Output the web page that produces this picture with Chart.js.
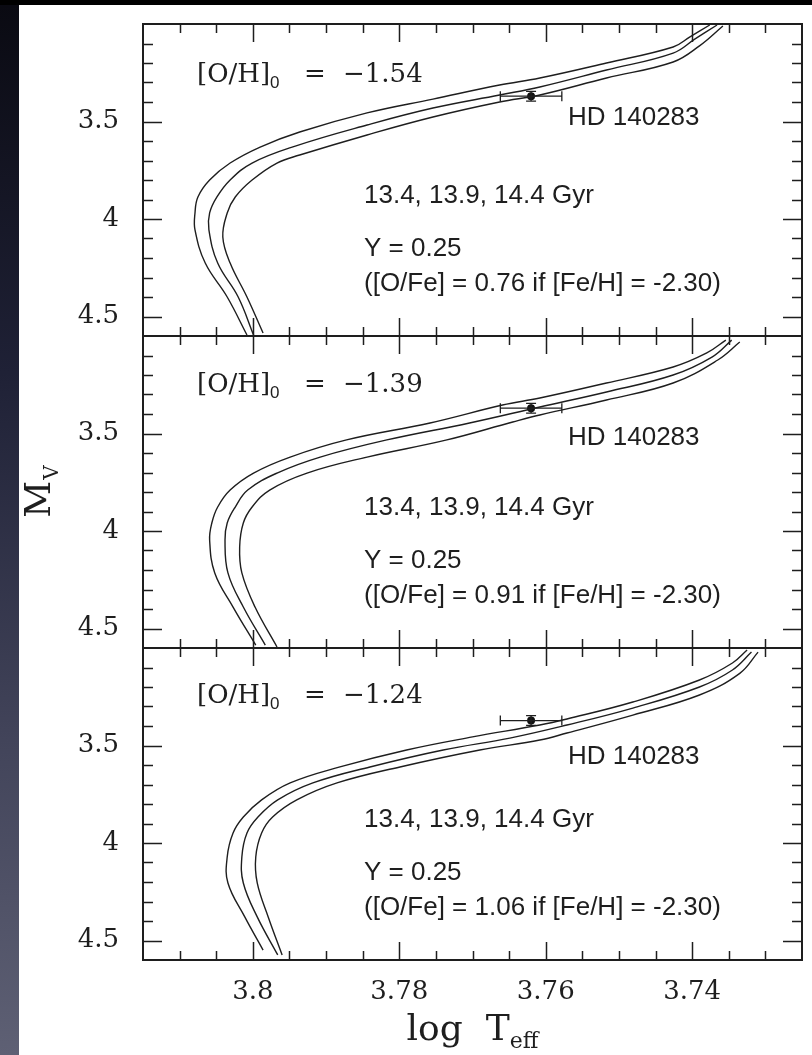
<!DOCTYPE html>
<html>
<head>
<meta charset="utf-8">
<script src="https://cdn.jsdelivr.net/npm/chart.js@4.4.1/dist/chart.umd.min.js"></script>
<style>
  html, body { margin: 0; padding: 0; }
  body { width: 812px; height: 1055px; background: #000; position: relative; overflow: hidden; }
  #strip { position: absolute; left: 0; top: 5px; width: 19px; height: 1050px;
    background: linear-gradient(to bottom, #0a0a12 0%, #1f2136 35%, #42445a 70%, #5e6074 100%); }
  #sheet { position: absolute; left: 19px; top: 5px; width: 793px; height: 1050px; background: #fff; }
  canvas { position: absolute; left: 0; }
</style>
</head>
<body>
<div id="strip"></div>
<div id="sheet"></div>
<canvas id="p1" width="812" height="332" style="top:14px;width:812px;height:332px"></canvas>
<canvas id="p2" width="812" height="332" style="top:326px;width:812px;height:332px"></canvas>
<canvas id="p3" width="812" height="417" style="top:638px;width:812px;height:417px"></canvas>
<script>
// axis ticks
const logTeffTicks = [3.8, 3.78, 3.76, 3.74];
const mvTicks = [3.5, 4, 4.5];

// panel labels
const ohValues = ['\u22121.54', '\u22121.39', '\u22121.24'];
const ofeValues = ['0.76', '0.91', '1.06'];
const ages = ['13.4', '13.9', '14.4'];

// HD 140283
const starLogTeff = 3.762, starLogTeffErr = 0.0042;
const starMv = [3.37, 3.37, 3.372], starMvErr = 0.025;

// isochrones [log Teff, Mv]; panel [O/H]0 = -1.54
const iso154_134 = [[3.8008,4.595],[3.8035,4.400],[3.8065,4.226],[3.8079,4.056],[3.8079,3.969],[3.8075,3.887],[3.8059,3.800],[3.8031,3.713],[3.7990,3.631],[3.7936,3.554],[3.7844,3.456],[3.7754,3.385],[3.7663,3.313],[3.7608,3.277],[3.7517,3.200],[3.7426,3.118],[3.7403,3.066],[3.7376,3.005]];
const iso154_139 = [[3.7999,4.595],[3.8020,4.400],[3.8048,4.226],[3.8060,4.056],[3.8059,3.969],[3.8049,3.887],[3.8031,3.800],[3.8001,3.713],[3.7942,3.626],[3.7844,3.518],[3.7754,3.431],[3.7663,3.364],[3.7608,3.323],[3.7517,3.236],[3.7426,3.149],[3.7396,3.076],[3.7366,3.005]];
const iso154_144 = [[3.7986,4.585],[3.8008,4.400],[3.8031,4.226],[3.8041,4.092],[3.8035,3.969],[3.8024,3.887],[3.8001,3.800],[3.7967,3.713],[3.7936,3.672],[3.7844,3.569],[3.7754,3.477],[3.7663,3.400],[3.7608,3.364],[3.7517,3.277],[3.7426,3.195],[3.7390,3.112],[3.7358,3.010]];
// [O/H]0 = -1.39
const iso139_134 = [[3.7996,4.585],[3.8027,4.390],[3.8052,4.215],[3.8059,4.046],[3.8056,3.959],[3.8048,3.877],[3.8031,3.790],[3.7999,3.703],[3.7949,3.621],[3.7872,3.533],[3.7758,3.446],[3.7659,3.354],[3.7608,3.318],[3.7517,3.241],[3.7426,3.159],[3.7380,3.087],[3.7354,3.021]];
const iso139_139 = [[3.7983,4.585],[3.8013,4.390],[3.8034,4.215],[3.8038,4.046],[3.8035,3.959],[3.8024,3.877],[3.8007,3.790],[3.7967,3.703],[3.7908,3.621],[3.7817,3.533],[3.7704,3.446],[3.7608,3.364],[3.7517,3.287],[3.7426,3.200],[3.7373,3.108],[3.7346,3.021]];
const iso139_144 = [[3.7967,4.595],[3.7997,4.390],[3.8015,4.215],[3.8018,4.082],[3.8013,3.959],[3.8001,3.877],[3.7977,3.790],[3.7926,3.703],[3.7844,3.621],[3.7735,3.533],[3.7645,3.441],[3.7608,3.405],[3.7517,3.328],[3.7426,3.241],[3.7365,3.123],[3.7335,3.031]];
// [O/H]0 = -1.24
const iso124_134 = [[3.7986,4.549],[3.8011,4.379],[3.8034,4.205],[3.8035,4.072],[3.8027,3.949],[3.8013,3.867],[3.7988,3.779],[3.7949,3.692],[3.7881,3.610],[3.7790,3.523],[3.7700,3.456],[3.7608,3.395],[3.7571,3.364],[3.7481,3.277],[3.7390,3.164],[3.7345,3.077],[3.7325,3.010]];
const iso124_139 = [[3.7966,4.574],[3.7994,4.379],[3.8013,4.205],[3.8015,4.072],[3.8008,3.949],[3.7993,3.867],[3.7966,3.779],[3.7918,3.692],[3.7840,3.610],[3.7740,3.523],[3.7649,3.462],[3.7571,3.395],[3.7481,3.308],[3.7390,3.200],[3.7345,3.113],[3.7319,3.021]];
const iso124_144 = [[3.7960,4.574],[3.7979,4.379],[3.7994,4.205],[3.7996,4.072],[3.7988,3.949],[3.7973,3.867],[3.7940,3.779],[3.7885,3.692],[3.7799,3.610],[3.7690,3.523],[3.7608,3.472],[3.7571,3.436],[3.7481,3.344],[3.7390,3.241],[3.7335,3.130],[3.7310,3.021]];

const ink = '#1e1e1e';
const serif = s => s + 'px "DejaVu Serif"';
const sans = s => s + 'px "Liberation Sans"';

// box + inward ticks on all four sides
const frame = {
  id: 'frame',
  afterDatasetsDraw(chart) {
    const { ctx, chartArea: a, scales: { x, y } } = chart;
    ctx.save();
    ctx.strokeStyle = ink;
    ctx.lineWidth = 1.5;
    ctx.beginPath();
    for (let k = 746; k <= 762; k++) {
      const v = k / 200;
      const px = Math.round(x.getPixelForValue(v)) + 0.5;
      const len = logTeffTicks.some(t => Math.abs(t - v) < 1e-6) ? 18 : 9;
      ctx.moveTo(px, a.bottom); ctx.lineTo(px, a.bottom - len);
      ctx.moveTo(px, a.top); ctx.lineTo(px, a.top + len);
    }
    for (let k = 31; k <= 45; k++) {
      const v = k / 10;
      const py = Math.round(y.getPixelForValue(v)) + 0.5;
      const len = mvTicks.some(t => Math.abs(t - v) < 1e-6) ? 19 : 10;
      ctx.moveTo(a.left, py); ctx.lineTo(a.left + len, py);
      ctx.moveTo(a.right, py); ctx.lineTo(a.right - len, py);
    }
    ctx.stroke();
    ctx.lineWidth = 2;
    ctx.strokeRect(a.left, a.top, a.width, a.height);
    ctx.restore();
  }
};

const errorBars = {
  id: 'errorBars',
  afterDatasetsDraw(chart) {
    const { ctx, scales: { x, y } } = chart;
    const mv = chart.data.datasets[3].data[0].y;
    const px = x.getPixelForValue(starLogTeff), py = y.getPixelForValue(mv);
    const x1 = x.getPixelForValue(starLogTeff + starLogTeffErr);
    const x2 = x.getPixelForValue(starLogTeff - starLogTeffErr);
    const y1 = y.getPixelForValue(mv - starMvErr);
    const y2 = y.getPixelForValue(mv + starMvErr);
    ctx.save();
    ctx.strokeStyle = ink;
    ctx.lineWidth = 1.3;
    ctx.beginPath();
    ctx.moveTo(x1, py); ctx.lineTo(x2, py);
    ctx.moveTo(x1, py - 5); ctx.lineTo(x1, py + 5);
    ctx.moveTo(x2, py - 5); ctx.lineTo(x2, py + 5);
    ctx.moveTo(px, y1); ctx.lineTo(px, y2);
    ctx.moveTo(px - 5, y1); ctx.lineTo(px + 5, y1);
    ctx.moveTo(px - 5, y2); ctx.lineTo(px + 5, y2);
    ctx.stroke();
    ctx.restore();
  }
};

function panelText(idx) {
  return {
    id: 'panelText' + idx,
    afterDraw(chart) {
      const { ctx, chartArea: a } = chart;
      const top = a.top;
      ctx.save();
      ctx.fillStyle = ink;
      ctx.textAlign = 'left';
      ctx.textBaseline = 'alphabetic';
      const b0 = top + [58, 56, 55][idx];
      ctx.font = serif(26);
      ctx.fillText('[O/H]', 197, b0);
      ctx.font = sans(17);
      ctx.fillText('0', 270, b0 + 6);
      ctx.font = serif(26);
      ctx.fillText('=', 304, b0);
      ctx.fillText(ohValues[idx], 343, b0);

      ctx.font = sans(26);
      ctx.fillText('HD 140283', 568, top + [101, 109, 116][idx]);
      ctx.fillText(ages.join(', ') + ' Gyr', 364, top + 179);
      ctx.fillText('Y = 0.25', 364, top + 232);
      ctx.fillText('([O/Fe] = ' + ofeValues[idx] + ' if [Fe/H] = -2.30)', 364, top + 267);

      if (idx === 1) {
        // y-axis title M_V, rotated
        ctx.font = serif(36);
        const wm = ctx.measureText('M').width;
        ctx.font = serif(20);
        const wv = ctx.measureText('V').width;
        const cy = (a.top + a.bottom) / 2;
        ctx.translate(50, cy + (wm + wv) / 2);
        ctx.rotate(-Math.PI / 2);
        ctx.font = serif(36);
        ctx.fillText('M', 0, 0);
        ctx.font = serif(20);
        ctx.fillText('V', wm + 1, 8);
      }
      if (idx === 2) {
        // x-axis title log T_eff
        const cx = (a.left + a.right) / 2;
        const base = a.bottom + 80;
        ctx.font = serif(36);
        const w1 = ctx.measureText('log  T').width;
        ctx.font = serif(22);
        const w2 = ctx.measureText('eff').width;
        const x0 = cx - (w1 + w2) / 2;
        ctx.font = serif(36);
        ctx.fillText('log  T', x0, base);
        ctx.font = serif(22);
        ctx.fillText('eff', x0 + w1, base + 8);
      }
      ctx.restore();
    }
  };
}

function noPad(s) {
  s.paddingTop = 0; s.paddingBottom = 0; s.paddingLeft = 0; s.paddingRight = 0;
}

function makePanel(id, idx, curves, showX) {
  const lines = curves.map(c => ({
    data: c.map(([x, y]) => ({ x, y })),
    showLine: true,
    pointRadius: 0,
    borderColor: ink,
    borderWidth: 1.4,
    borderJoinStyle: 'round',
    tension: 0.4,
    fill: false
  }));
  const star = {
    data: [{ x: starLogTeff, y: starMv[idx] }],
    pointRadius: 4,
    backgroundColor: '#111',
    borderWidth: 0
  };
  new Chart(document.getElementById(id), {
    type: 'scatter',
    data: { datasets: [...lines, star] },
    options: {
      responsive: false,
      maintainAspectRatio: false,
      animation: false,
      layout: { padding: { top: 10, right: 10, bottom: showX ? 0 : 10, left: 0 } },
      plugins: { legend: { display: false }, tooltip: { enabled: false } },
      scales: {
        x: {
          type: 'linear', min: 3.725, max: 3.815, reverse: true, display: showX,
          grid: { display: false }, border: { display: false },
          afterBuildTicks: s => { s.ticks = logTeffTicks.map(v => ({ value: v })); },
          afterFit: s => { noPad(s); if (showX) s.height = 95; },
          ticks: { padding: 9, color: ink, font: { family: 'DejaVu Serif', size: 26 }, maxRotation: 0,
            callback: v => String(v) }
        },
        y: {
          type: 'linear', min: 3.0, max: 4.6, reverse: true,
          grid: { display: false }, border: { display: false },
          afterBuildTicks: s => { s.ticks = mvTicks.map(v => ({ value: v })); },
          afterFit: s => { noPad(s); s.width = 143; },
          ticks: { padding: 16, color: ink, font: { family: 'DejaVu Serif', size: 26 },
            callback: v => String(v) }
        }
      }
    },
    plugins: [frame, errorBars, panelText(idx)]
  });
}

makePanel('p1', 0, [iso154_134, iso154_139, iso154_144], false);
makePanel('p2', 1, [iso139_134, iso139_139, iso139_144], false);
makePanel('p3', 2, [iso124_134, iso124_139, iso124_144], true);
</script>
</body>
</html>
